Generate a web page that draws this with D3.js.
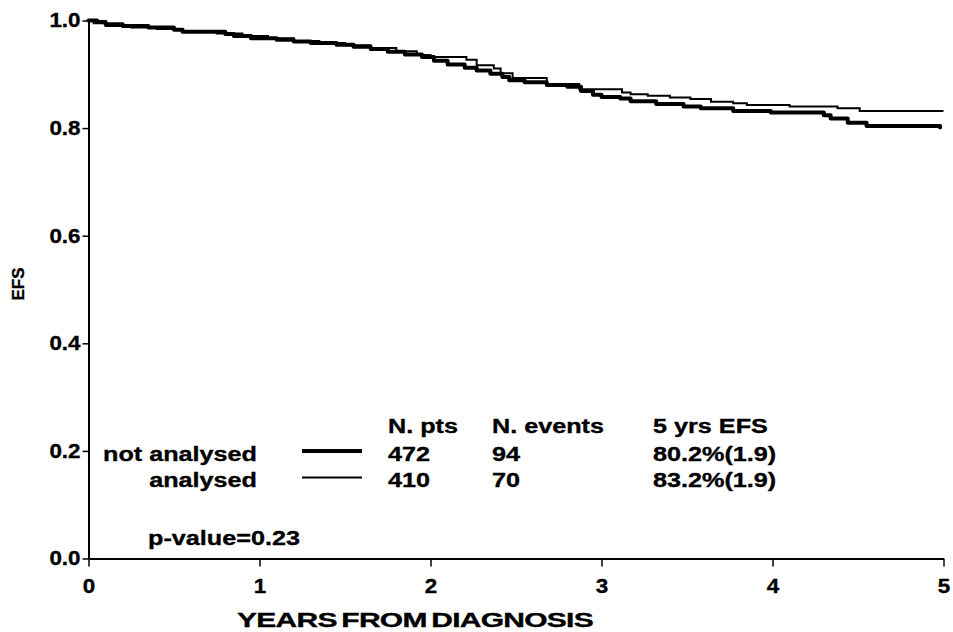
<!DOCTYPE html>
<html>
<head>
<meta charset="utf-8">
<script src="https://cdn.jsdelivr.net/npm/d3@7"></script>
<style>
  body { margin: 0; background: #fff; }
  svg text { font-family: "Liberation Sans", Arial, sans-serif; font-weight: bold; fill: #000; stroke: #000; stroke-width: 0.35px; }
</style>
</head>
<body>
<svg id="km_chart" width="953" height="632"></svg>
<script>
// values
var groups = ["not analysed", "analysed"];
var nPts = [472, 410];
var nEvents = [94, 70];
var efs5 = ["80.2%(1.9)", "83.2%(1.9)"];
var pValue = "0.23";
var xTicks = [0, 1, 2, 3, 4, 5];
var yTicks = [0, 0.2, 0.4, 0.6, 0.8, 1.0];

// not analysed (thick)
var notTimes = [0, 0.05, 0.1, 0.2, 0.35, 0.5, 0.55, 0.8, 0.85, 0.95, 1.1, 1.2, 1.3, 1.45, 1.55, 1.65,
  1.75, 1.85, 1.95, 2.02, 2.1, 2.2, 2.27, 2.35, 2.42, 2.46, 2.55, 2.68, 2.8, 2.88, 2.95, 3.0,
  3.11, 3.17, 3.32, 3.48, 3.58, 3.77, 3.99, 4.3, 4.34, 4.44, 4.55, 4.98];
var notSurv = [1.0, 0.997, 0.993, 0.990, 0.987, 0.983, 0.979, 0.975, 0.971, 0.967, 0.964, 0.961, 0.958, 0.955, 0.951, 0.947,
  0.942, 0.937, 0.932, 0.925, 0.918, 0.912, 0.907, 0.901, 0.895, 0.889, 0.885, 0.880, 0.877, 0.869, 0.862, 0.858,
  0.855, 0.850, 0.845, 0.840, 0.837, 0.832, 0.829, 0.824, 0.818, 0.810, 0.804, 0.801];

// analysed (thin)
var anTimes = [0, 0.03, 0.1, 0.25, 0.4, 0.55, 0.75, 0.9, 1.05, 1.2, 1.35, 1.5, 1.65, 1.8, 1.92, 2.0,
  2.21, 2.27, 2.37, 2.41, 2.48, 2.68, 2.87, 3.12, 3.17, 3.27, 3.40, 3.52, 3.64, 3.77, 3.85, 4.10,
  4.38, 4.51, 5.0];
var anSurv = [1.0, 0.995, 0.990, 0.987, 0.984, 0.980, 0.976, 0.971, 0.967, 0.962, 0.958, 0.954, 0.949, 0.943, 0.936, 0.932,
  0.927, 0.917, 0.911, 0.902, 0.893, 0.882, 0.872, 0.866, 0.863, 0.860, 0.857, 0.854, 0.849, 0.846, 0.843, 0.840,
  0.837, 0.832, 0.832];

var svg = d3.select("#km_chart");
var plot = {left: 88.5, right: 943.5, top: 20.5, bottom: 558.5};

var x = d3.scaleLinear().domain([0, 5]).range([plot.left, plot.right]);
var y = d3.scaleLinear().domain([0, 1]).range([plot.bottom, plot.top]);

function txt(px, py, s, anchor, size, sx) {
  return svg.append("text")
    .attr("transform", "translate(" + px + "," + py + ") scale(" + sx + ",1)")
    .attr("text-anchor", anchor)
    .style("font-size", size + "px")
    .text(s);
}

// axes
var tsx = 1.12;
var yAxis = d3.axisLeft(y).tickValues(yTicks).tickFormat(d3.format(".1f")).tickSize(6).tickSizeOuter(0);
var gy = svg.append("g").attr("transform", "translate(" + plot.left + ",0)").call(yAxis);
gy.selectAll("text")
  .style("font-size", "20px")
  .attr("x", -8 / tsx)
  .attr("transform", "scale(" + tsx + ",1)");

var xAxis = d3.axisBottom(x).tickValues(xTicks).tickFormat(d3.format("d")).tickSize(8).tickSizeOuter(0);
var gx = svg.append("g").attr("transform", "translate(0," + plot.bottom + ")").call(xAxis);
gx.selectAll("text")
  .style("font-size", "20px")
  .attr("y", 20.5)
  .attr("transform", "scale(" + tsx + ",1)");

svg.selectAll(".domain").attr("stroke", "#000").attr("stroke-width", 2);
svg.selectAll(".tick line").attr("stroke", "#000").attr("stroke-width", 1.5);

// axis titles
svg.append("text")
  .attr("transform", "translate(24,284) rotate(-90)")
  .attr("text-anchor", "middle")
  .style("font-size", "17px")
  .text("EFS");

// tight title as in the original: squeeze spacing a little, then stretch to width
var xt = txt(415, 627, "YEARS FROM DIAGNOSIS", "middle", 20, 1)
  .style("letter-spacing", "-0.5px")
  .style("word-spacing", "-2px");
var xtw = xt.node().getComputedTextLength();
xt.attr("transform", "translate(415,627) scale(" + (356 / xtw) + ",1)");

// survival curves
var line = d3.line()
  .x(function(d) { return x(d[0]); })
  .y(function(d) { return y(d[1]); })
  .curve(d3.curveStepAfter);

var notData = d3.zip(notTimes, notSurv);
var anData = d3.zip(anTimes, anSurv);

svg.append("path").datum(anData)
  .attr("d", line).attr("fill", "none")
  .attr("stroke", "#000").attr("stroke-width", 2);

svg.append("path").datum(notData)
  .attr("d", line).attr("fill", "none")
  .attr("stroke", "#000").attr("stroke-width", 4)
  .attr("stroke-linecap", "round").attr("stroke-linejoin", "round");

// legend table
var lsx = 1.2, lfs = 21;
var colX = [388, 492, 653];
var rowY = [433, 461, 487];
txt(colX[0], rowY[0], "N. pts", "start", lfs, lsx);
txt(colX[1], rowY[0], "N. events", "start", lfs, lsx);
txt(colX[2], rowY[0], "5 yrs EFS", "start", lfs, lsx);

var lineW = [4, 2];
var lineY = [451, 477.5];
groups.forEach(function(g, i) {
  txt(257, rowY[i + 1], g, "end", lfs, lsx);
  svg.append("line")
    .attr("x1", 302).attr("x2", 362)
    .attr("y1", lineY[i]).attr("y2", lineY[i])
    .attr("stroke", "#000").attr("stroke-width", lineW[i]);
  txt(colX[0], rowY[i + 1], nPts[i], "start", lfs, lsx);
  txt(colX[1], rowY[i + 1], nEvents[i], "start", lfs, lsx);
  txt(colX[2], rowY[i + 1], efs5[i], "start", lfs, lsx);
});

txt(148, 545, "p-value=" + pValue, "start", lfs, lsx);
</script>
</body>
</html>
